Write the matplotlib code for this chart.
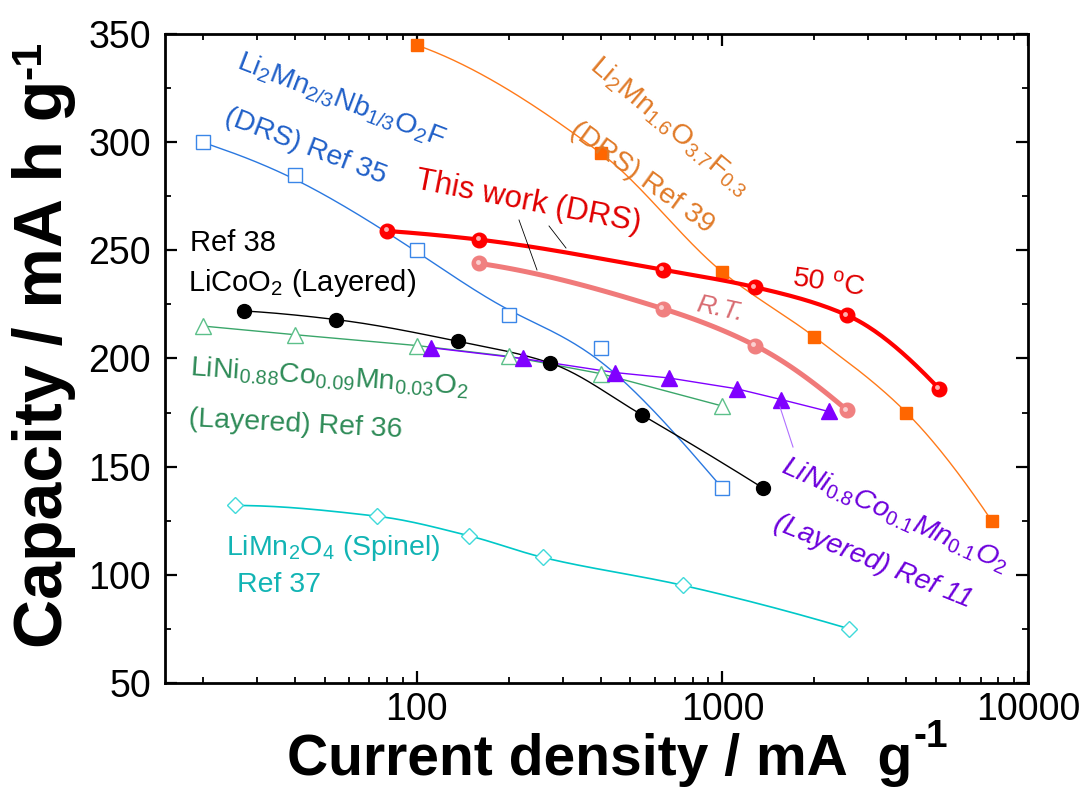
import numpy as np
import matplotlib
matplotlib.use("Agg")
import matplotlib.pyplot as plt
from matplotlib.lines import Line2D
from matplotlib.ticker import LogLocator, NullFormatter, FuncFormatter, MultipleLocator
from matplotlib.transforms import ScaledTranslation

plt.rcParams['font.family'] = ['Liberation Sans', 'DejaVu Sans']
plt.rcParams['mathtext.fontset'] = 'custom'
plt.rcParams['mathtext.rm'] = 'Liberation Sans'
plt.rcParams['mathtext.it'] = 'Liberation Sans:italic'
plt.rcParams['mathtext.bf'] = 'Liberation Sans:bold'

# ---------------- data ----------------
ref35_x = [20, 40, 100, 200, 400, 1000]
ref35_y = [300, 285, 250, 220, 205, 140]

ref39_x = [100, 400, 1000, 2000, 4000, 7600]
ref39_y = [345, 295, 240, 210, 175, 125]

work50_x = [80, 160, 640, 1280, 2560, 5120]
work50_y = [259, 255, 241, 233, 220, 186]

workRT_x = [160, 640, 1280, 2560]
workRT_y = [244, 223, 206, 176]

ref38_x = [27.2, 54.4, 136, 272, 544, 1360]
ref38_y = [222, 218, 208, 198, 174, 140]

ref36_x = [20, 40, 100, 200, 400, 1000]
ref36_y = [215, 211, 206, 201, 193, 178]

ref11_x = [111, 222, 445, 668, 1113, 1558, 2225]
ref11_y = [205, 200, 193.5, 191, 186, 181, 175.5]

ref37_x = [25.5, 74.3, 148, 258, 745, 2590]
ref37_y = [132, 127, 118, 108, 95, 75]

x_ticks = [100, 1000, 10000]
y_ticks = [50, 100, 150, 200, 250, 300, 350]

W, H = 1086, 797


def smooth(x, y, n=40):
    """Monotone (PCHIP) connector through the points, in log-x space."""
    lx = np.log10(np.asarray(x, float))
    y = np.asarray(y, float)
    h = np.diff(lx)
    d = np.diff(y) / h
    m = np.zeros_like(y)
    for k in range(1, len(y) - 1):
        if d[k - 1] * d[k] > 0:
            w1 = 2 * h[k] + h[k - 1]
            w2 = h[k] + 2 * h[k - 1]
            m[k] = (w1 + w2) / (w1 / d[k - 1] + w2 / d[k])

    def edge(h0, h1, d0, d1):
        v = ((2 * h0 + h1) * d0 - h0 * d1) / (h0 + h1)
        if np.sign(v) != np.sign(d0):
            v = 0.0
        elif np.sign(d0) != np.sign(d1) and abs(v) > 3 * abs(d0):
            v = 3 * d0
        return v

    if len(y) > 2:
        m[0] = edge(h[0], h[1], d[0], d[1])
        m[-1] = edge(h[-1], h[-2], d[-1], d[-2])
    else:
        m[:] = d[0]
    xs, ys = [], []
    for k in range(len(y) - 1):
        t = np.linspace(0, 1, n, endpoint=False)
        h00 = 2 * t ** 3 - 3 * t ** 2 + 1
        h10 = t ** 3 - 2 * t ** 2 + t
        h01 = -2 * t ** 3 + 3 * t ** 2
        h11 = t ** 3 - t ** 2
        xs.append(lx[k] + t * h[k])
        ys.append(h00 * y[k] + h10 * h[k] * m[k] + h01 * y[k + 1] + h11 * h[k] * m[k + 1])
    xs.append([lx[-1]])
    ys.append([y[-1]])
    return 10 ** np.concatenate(xs), np.concatenate(ys)


def bspline(x, y, n=40):
    """Clamped uniform cubic B-spline using the points as control points (log-x space)."""
    P = np.column_stack([np.log10(np.asarray(x, float)), np.asarray(y, float)])
    P = np.vstack([P[0], P[0], P, P[-1], P[-1]])
    t = np.linspace(0, 1, n, endpoint=False)[:, None]
    b0 = (1 - t) ** 3 / 6
    b1 = (3 * t ** 3 - 6 * t ** 2 + 4) / 6
    b2 = (-3 * t ** 3 + 3 * t ** 2 + 3 * t + 1) / 6
    b3 = t ** 3 / 6
    segs = []
    for i in range(len(P) - 3):
        segs.append(b0 * P[i] + b1 * P[i + 1] + b2 * P[i + 2] + b3 * P[i + 3])
    segs.append(P[-1][None, :])
    C = np.vstack(segs)
    return 10 ** C[:, 0], C[:, 1]


fig = plt.figure(figsize=(W / 100, H / 100), dpi=100)
ax = fig.add_axes([165 / W, 1 - 682.7 / H, (1028 - 165) / W, (682.7 - 34.3) / H])
ax.set_xscale('log')

# connectors
sx, sy = bspline(ref35_x, ref35_y)
ax.plot(sx, sy, color='#2a78e0', lw=1.0, zorder=2)
sx, sy = smooth(ref39_x, ref39_y)
ax.plot(sx, sy, color='#ff7a1a', lw=1.0, zorder=2)
ax.plot(ref36_x, ref36_y, color='#3aa66a', lw=1.0, zorder=2)
sx, sy = smooth(ref38_x, ref38_y)
ax.plot(sx, sy, color='black', lw=1.0, zorder=3)
ax.plot(ref11_x, ref11_y, color='#8000ff', lw=1.0, zorder=3)
sx, sy = smooth(ref37_x, ref37_y)
ax.plot(sx, sy, color='#00c8c8', lw=1.2, zorder=2)
sx, sy = smooth(workRT_x, workRT_y)
ax.plot(sx, sy, color='#f07a7a', lw=3.6, zorder=4, solid_capstyle='round')
sx, sy = smooth(work50_x, work50_y)
ax.plot(sx, sy, color='#ff0000', lw=3.0, zorder=5, solid_capstyle='round')

# markers
ax.plot(ref35_x, ref35_y, ls='none', marker='s', ms=9.5, mfc='white', mec='#3a86e8', mew=1.0, zorder=3)
ax.plot(ref39_x, ref39_y, ls='none', marker='s', ms=9, mfc='#ff6600', mec='#ff6600', zorder=3)
ax.plot(ref36_x, ref36_y, ls='none', marker='^', ms=11.5, mfc='white', mec='#5cc08a', mew=1.0, zorder=3)
ax.plot(ref38_x, ref38_y, ls='none', marker='o', ms=10, mfc='black', mec='black', zorder=4)
ax.plot(ref11_x, ref11_y, ls='none', marker='^', ms=11.5, mfc='#8000ff', mec='#8000ff', zorder=4)
ax.plot(ref37_x, ref37_y, ls='none', marker='D', ms=8.5, mfc='white', mec='#40dada', mew=1.0, zorder=3)

hl = ax.transData + ScaledTranslation(-1.2 / 72, 1.2 / 72, fig.dpi_scale_trans)
ax.plot(workRT_x, workRT_y, ls='none', marker='o', ms=10.5, mfc='#f08080', mec='#f08080', zorder=6)
ax.plot(workRT_x, workRT_y, ls='none', marker='o', ms=3.5, mfc='#fbd0d0', mec='none', zorder=6.5, transform=hl)
ax.plot(work50_x, work50_y, ls='none', marker='o', ms=10.5, mfc='#ff0000', mec='#ff0000', zorder=7)
ax.plot(work50_x, work50_y, ls='none', marker='o', ms=3.5, mfc='#ffb0b0', mec='none', zorder=7.5, transform=hl)

# axes styling
ax.set_xlim(15, 10000)
ax.set_ylim(50, 350)
ax.set_xticks(x_ticks)
ax.xaxis.set_major_formatter(FuncFormatter(lambda v, p: f"{int(round(v))}"))
ax.xaxis.set_minor_locator(LogLocator(base=10, subs=np.arange(2, 10)))
ax.xaxis.set_minor_formatter(NullFormatter())
ax.set_yticks(y_ticks)
ax.yaxis.set_minor_locator(MultipleLocator(25))
for s in ax.spines.values():
    s.set_linewidth(2.0)
ax.tick_params(which='both', direction='in', top=True, right=True)
ax.tick_params(which='major', length=8.5, width=1.6, labelsize=27)
ax.tick_params(which='minor', length=4.5, width=1.3)
ax.tick_params(axis='y', which='major', pad=10)
ax.tick_params(axis='x', which='major', pad=7)

# axis titles (superscript placed as its own text so it keeps a short hyphen)
renderer = fig.canvas.get_renderer()
xl = fig.text(287 / W, 1 - 760 / H, "Current density / mA  g",
              ha='left', va='center', fontsize=41, fontweight='bold')
bb = xl.get_window_extent(renderer)
fig.text((bb.x1 + 1) / W, (bb.y1 - 4) / H, "-1", ha='left', va='center',
         fontsize=28, fontweight='bold')

yl = fig.text(44 / W, 1 - 648 / H, "Capacity / mA h g",
              ha='center', va='bottom', rotation=90, fontsize=49, fontweight='bold')
bb = yl.get_window_extent(renderer)
fig.text((bb.x0 - 3) / W, (bb.y1 + 1) / H, "-1", ha='left', va='bottom', rotation=90,
         fontsize=31, fontweight='bold')


def T(x, y, s, **kw):
    d = dict(ha='center', va='center', rotation_mode='anchor', fontsize=20.5)
    d.update(kw)
    fig.text(x / W, 1 - y / H, s, **d)


blue_t = '#1f5fc8'
T(341, 100, r"Li$_2$Mn$_{2/3}$Nb$_{1/3}$O$_2$F", color=blue_t, rotation=-21)
T(306, 147, r"(DRS) Ref 35", color=blue_t, rotation=-21)

org_t = '#e07a28'
T(670, 126, r"Li$_2$Mn$_{1.6}$O$_{3.7}$F$_{0.3}$", color=org_t, rotation=-40)
T(642, 178, r"(DRS) Ref 39", color=org_t, rotation=-36)

T(528, 202, "This work (DRS)", color='#e00000', rotation=-11, fontsize=22.5)
T(829, 284, r"50 $^{\mathrm{o}}$C", color='#e00000', rotation=-8, fontsize=20.5)
T(720, 309, "R.T.", color='#d86a70', rotation=-12, fontsize=19, style='italic')

T(190, 243, "Ref 38", color='black', ha='left', fontsize=21)
T(188, 283, r"LiCoO$_2$ (Layered)", color='black', ha='left', fontsize=21)

grn_t = '#2e8b57'
T(329, 378, r"LiNi$_{0.88}$Co$_{0.09}$Mn$_{0.03}$O$_2$", color=grn_t, rotation=-4)
T(295, 425, "(Layered) Ref 36", color=grn_t, rotation=-3)

cyan_t = '#12b4b4'
T(226, 548, r"LiMn$_2$O$_4$ (Spinel)", color=cyan_t, ha='left')
T(237, 585, "Ref 37", color=cyan_t, ha='left')

pur_t = '#6c00dc'
T(895, 515, r"LiNi$_{\mathit{0.8}}$Co$_{\mathit{0.1}}$Mn$_{\mathit{0.1}}$O$_2$", color=pur_t,
  rotation=-24, style='italic')
T(873, 562, "(Layered) Ref 11", color=pur_t, rotation=-22, style='italic')

# leader lines
for (x1, y1, x2, y2, c, lw) in [(519, 220, 537, 270, 'black', 0.6),
                                (549, 226, 566, 248, 'black', 0.6),
                                (780, 407, 793, 447, '#b070ff', 0.8)]:
    fig.add_artist(Line2D([x1 / W, x2 / W], [1 - y1 / H, 1 - y2 / H],
                          transform=fig.transFigure, color=c, lw=lw))

fig.savefig("out.png", dpi=100)
